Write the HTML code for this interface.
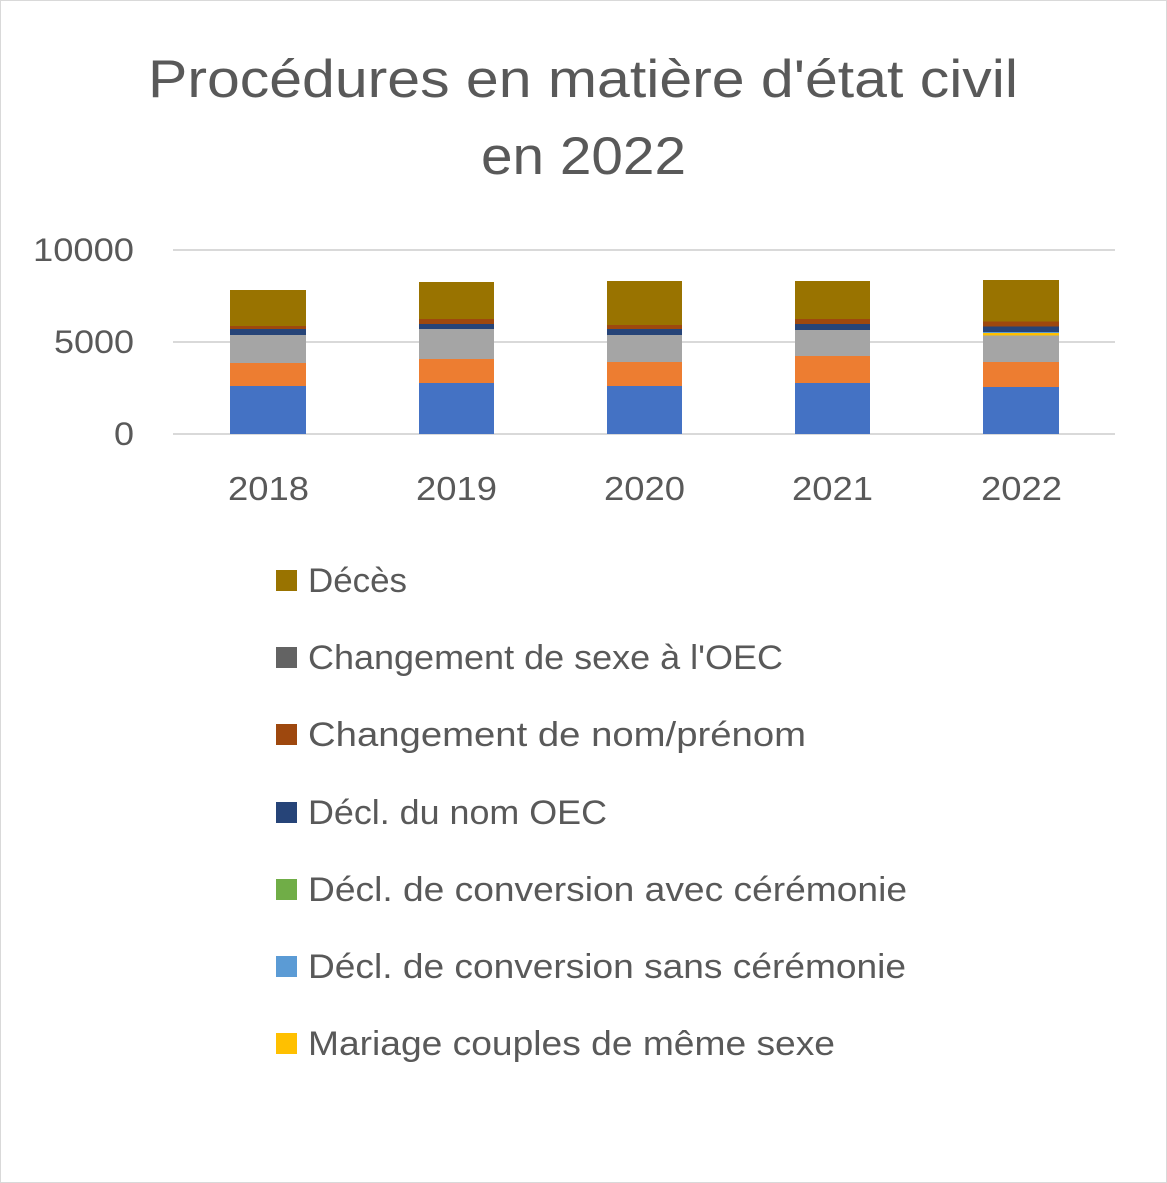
<!DOCTYPE html>
<html><head><meta charset="utf-8"><style>
body{margin:0;background:#fff}
svg{display:block}
text{font-family:"Liberation Sans",sans-serif;fill:#595959}
</style></head><body>
<svg width="1167" height="1183" viewBox="0 0 1167 1183">
<rect x="0.5" y="0.5" width="1166" height="1182" fill="#fff" stroke="#d9d9d9"/>
<text x="148" y="97" font-size="53" textLength="870" lengthAdjust="spacingAndGlyphs">Procédures en matière d'état civil</text>
<text x="481" y="174" font-size="53" textLength="205" lengthAdjust="spacingAndGlyphs">en 2022</text>
<g stroke="#d9d9d9" stroke-width="2">
<line x1="173" y1="250" x2="1115" y2="250"/>
<line x1="173" y1="342" x2="1115" y2="342"/>
<line x1="173" y1="434" x2="1115" y2="434"/>
</g>
<g font-size="32">
<text x="33" y="261" textLength="101" lengthAdjust="spacingAndGlyphs">10000</text>
<text x="54" y="353" textLength="80" lengthAdjust="spacingAndGlyphs">5000</text>
<text x="114" y="445" textLength="20" lengthAdjust="spacingAndGlyphs">0</text>
</g>
<g font-size="33">
<text x="228" y="500" textLength="81" lengthAdjust="spacingAndGlyphs">2018</text>
<text x="416" y="500" textLength="81" lengthAdjust="spacingAndGlyphs">2019</text>
<text x="604" y="500" textLength="81" lengthAdjust="spacingAndGlyphs">2020</text>
<text x="792" y="500" textLength="81" lengthAdjust="spacingAndGlyphs">2021</text>
<text x="981" y="500" textLength="81" lengthAdjust="spacingAndGlyphs">2022</text>
</g>
<g transform="translate(230,0)">
<rect width="76" y="386" height="48" fill="#4472c4"/>
<rect width="76" y="363" height="23" fill="#ed7d31"/>
<rect width="76" y="335" height="28" fill="#a5a5a5"/>
<rect width="76" y="329" height="6" fill="#264478"/>
<rect width="76" y="326" height="3" fill="#9e480e"/>
<rect width="76" y="290" height="36" fill="#997300"/>
</g>
<g transform="translate(419,0)">
<rect width="75" y="383" height="51" fill="#4472c4"/>
<rect width="75" y="359" height="24" fill="#ed7d31"/>
<rect width="75" y="329" height="30" fill="#a5a5a5"/>
<rect width="75" y="324" height="5" fill="#264478"/>
<rect width="75" y="319" height="5" fill="#9e480e"/>
<rect width="75" y="282" height="37" fill="#997300"/>
</g>
<g transform="translate(607,0)">
<rect width="75" y="386" height="48" fill="#4472c4"/>
<rect width="75" y="362" height="24" fill="#ed7d31"/>
<rect width="75" y="335" height="27" fill="#a5a5a5"/>
<rect width="75" y="329" height="6" fill="#264478"/>
<rect width="75" y="325" height="4" fill="#9e480e"/>
<rect width="75" y="281" height="44" fill="#997300"/>
</g>
<g transform="translate(795,0)">
<rect width="75" y="383" height="51" fill="#4472c4"/>
<rect width="75" y="356" height="27" fill="#ed7d31"/>
<rect width="75" y="330" height="26" fill="#a5a5a5"/>
<rect width="75" y="324" height="6" fill="#264478"/>
<rect width="75" y="319" height="5" fill="#9e480e"/>
<rect width="75" y="281" height="38" fill="#997300"/>
</g>
<g transform="translate(983,0)">
<rect width="76" y="387" height="47" fill="#4472c4"/>
<rect width="76" y="362" height="25" fill="#ed7d31"/>
<rect width="76" y="335.5" height="26.5" fill="#a5a5a5"/>
<rect width="76" y="333" height="2.5" fill="#ffc000"/>
<rect width="76" y="332" height="1" fill="#5b9bd5"/>
<rect width="76" y="326.5" height="5.5" fill="#264478"/>
<rect width="76" y="321.5" height="5" fill="#9e480e"/>
<rect width="76" y="280" height="41.5" fill="#997300"/>
</g>
<g font-size="34">
<rect x="276" y="570" width="21" height="21" fill="#997300"/><text x="308" y="592" textLength="99" lengthAdjust="spacingAndGlyphs">Décès</text>
<rect x="276" y="647" width="21" height="21" fill="#636363"/><text x="308" y="669" textLength="475" lengthAdjust="spacingAndGlyphs">Changement de sexe à l'OEC</text>
<rect x="276" y="724" width="21" height="21" fill="#9e480e"/><text x="308" y="746" textLength="498" lengthAdjust="spacingAndGlyphs">Changement de nom/prénom</text>
<rect x="276" y="802" width="21" height="21" fill="#264478"/><text x="308" y="824" textLength="299" lengthAdjust="spacingAndGlyphs">Décl. du nom OEC</text>
<rect x="276" y="879" width="21" height="21" fill="#70ad47"/><text x="308" y="901" textLength="599" lengthAdjust="spacingAndGlyphs">Décl. de conversion avec cérémonie</text>
<rect x="276" y="956" width="21" height="21" fill="#5b9bd5"/><text x="308" y="978" textLength="598" lengthAdjust="spacingAndGlyphs">Décl. de conversion sans cérémonie</text>
<rect x="276" y="1033" width="21" height="21" fill="#ffc000"/><text x="308" y="1055" textLength="527" lengthAdjust="spacingAndGlyphs">Mariage couples de même sexe</text>
</g>
</svg>
</body></html>
